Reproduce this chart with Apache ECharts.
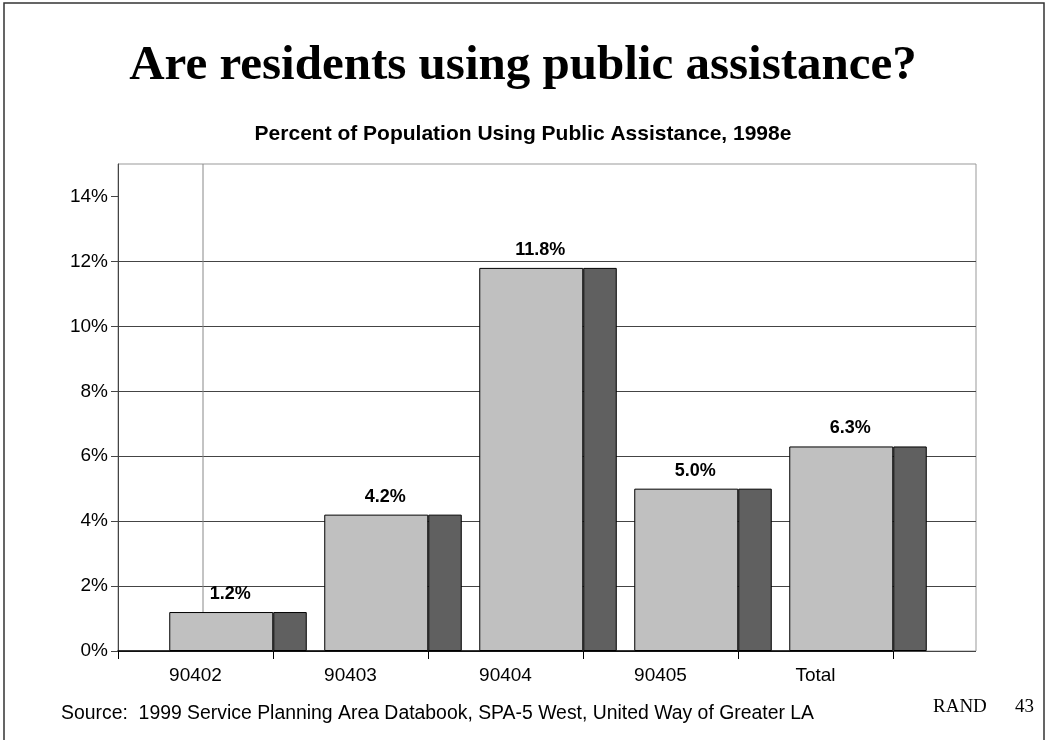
<!DOCTYPE html>
<html>
<head>
<meta charset="utf-8">
<script src="https://cdn.jsdelivr.net/npm/echarts@6/dist/echarts.min.js"></script>
<style>
html,body{margin:0;padding:0;background:#fff;}
#chart{width:1046px;height:740px;}
</style>
</head>
<body>
<div id="chart"></div>
<script>
const categories = ['90402', '90403', '90404', '90405', 'Total'];
const values = [1.2, 4.2, 11.8, 5.0, 6.3];
const yTicks = [0, 2, 4, 6, 8, 10, 12, 14];
const titleText = 'Are residents using public assistance?';
const subtitleText = 'Percent of Population Using Public Assistance, 1998e';
const sourceText = 'Source:  1999 Service Planning Area Databook, SPA-5 West, United Way of Greater LA';

const GRID_LEFT = 118, GRID_TOP = 164, GRID_BOTTOM = 89;
const PLOT_RIGHT = 70, AXIS_RIGHT = 153;
const DEPTH = 85;

const chart = echarts.init(document.getElementById('chart'), null, {renderer: 'canvas'});
const sans = 'Arial, "Liberation Sans", sans-serif';
const serif = '"Times New Roman", "Liberation Serif", serif';

const option = {
  animation: false,
  backgroundColor: '#fff',
  title: [
    {text: titleText, left: 'center', top: 42, padding: 0,
     textStyle: {fontFamily: serif, fontSize: 49, fontWeight: 'bold', color: '#000'}},
    {text: subtitleText, left: 'center', top: 124, padding: 0,
     textStyle: {fontFamily: sans, fontSize: 21, fontWeight: 'bold', color: '#000'}},
    {text: sourceText, left: 61, top: 704, padding: 0,
     textStyle: {fontFamily: sans, fontSize: 19.4, fontWeight: 'normal', color: '#000'}},
    {text: 'RAND', left: 933, top: 698, padding: 0,
     textStyle: {fontFamily: serif, fontSize: 19, fontWeight: 'normal', color: '#000'}},
    {text: '43', left: 1015, top: 698, padding: 0,
     textStyle: {fontFamily: serif, fontSize: 19, fontWeight: 'normal', color: '#000'}}
  ],
  grid: [
    {left: GRID_LEFT, top: GRID_TOP, right: PLOT_RIGHT, bottom: GRID_BOTTOM,
     show: true, borderColor: '#999', borderWidth: 1, backgroundColor: 'transparent'},
    {left: GRID_LEFT, top: GRID_TOP, right: AXIS_RIGHT, bottom: GRID_BOTTOM}
  ],
  xAxis: [
    {gridIndex: 0, type: 'value', min: 0, max: 1, show: false},
    {gridIndex: 1, type: 'category', data: categories,
     axisLine: {lineStyle: {color: '#000', width: 1.5}},
     axisTick: {show: true, length: 8, lineStyle: {color: '#000'}},
     axisLabel: {fontFamily: sans, fontSize: 19, color: '#000', margin: 15},
     splitLine: {show: false}}
  ],
  yAxis: [
    {gridIndex: 0, type: 'value', min: 0, max: 15, interval: 2,
     axisLine: {show: true, lineStyle: {color: '#444'}},
     axisTick: {show: true, length: 7, customValues: yTicks, lineStyle: {color: '#444'}},
     axisLabel: {customValues: yTicks, fontFamily: sans, fontSize: 19, color: '#000', margin: 10,
       formatter: v => (v > 14 ? '' : v + '%')},
     splitLine: {show: true, showMaxLine: false, lineStyle: {color: '#444', width: 1}}},
    {gridIndex: 1, type: 'value', min: 0, max: 15, show: false}
  ],
  graphic: [
    {type: 'rect', z: 100, silent: true,
     shape: {x: 4, y: 3, width: 1040, height: 800},
     style: {fill: 'none', stroke: '#333', lineWidth: 1.5}},
    {type: 'line', z: 1, silent: true,
     shape: {x1: GRID_LEFT + DEPTH, y1: GRID_TOP, x2: GRID_LEFT + DEPTH, y2: 740 - GRID_BOTTOM},
     style: {stroke: '#888', lineWidth: 1}}
  ],
  series: [
    {name: 'depth', type: 'bar', xAxisIndex: 1, yAxisIndex: 1, data: values,
     barWidth: DEPTH, barGap: '0%', silent: true, clip: false,
     itemStyle: {color: 'rgba(0,0,0,0)', borderWidth: 0}},
    {name: 'front', type: 'bar', xAxisIndex: 1, yAxisIndex: 1, data: values,
     barWidth: 104, barGap: '0%', clip: false,
     itemStyle: {color: '#c0c0c0', borderColor: '#000', borderWidth: 1},
     label: {show: true, position: 'top', distance: 9, offset: [9, 0],
       formatter: p => p.value.toFixed(1) + '%',
       fontFamily: sans, fontSize: 18, fontWeight: 'bold', color: '#000'}},
    {name: 'side', type: 'bar', xAxisIndex: 1, yAxisIndex: 1, data: values,
     barWidth: 33.5, barGap: '0%', clip: false,
     itemStyle: {color: '#606060', borderColor: '#000', borderWidth: 1}}
  ]
};
chart.setOption(option);
</script>
</body>
</html>
